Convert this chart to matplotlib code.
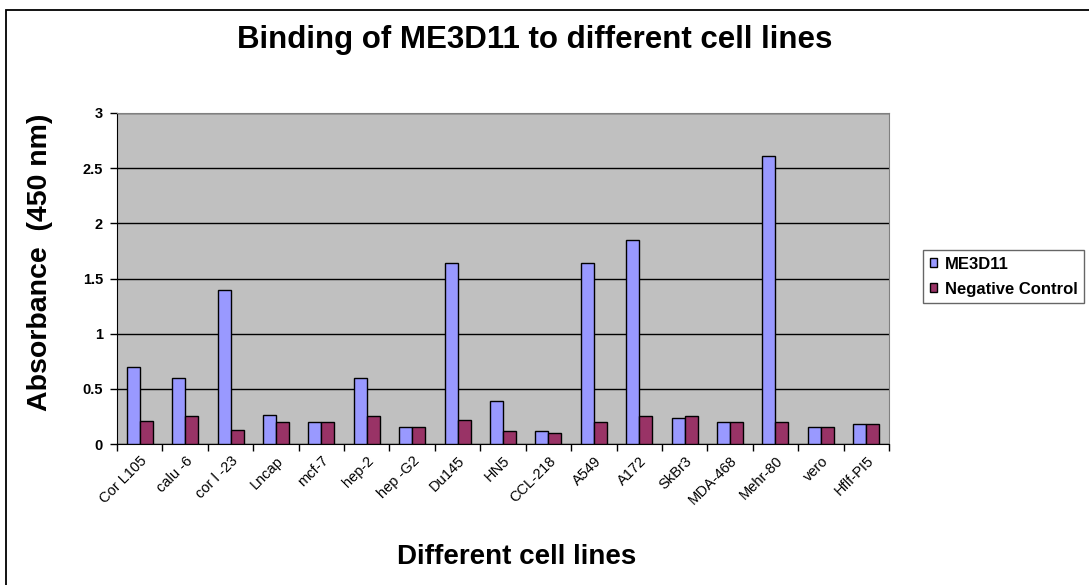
import numpy as np
import matplotlib.pyplot as plt
from matplotlib.patches import Rectangle

plt.rcParams["font.family"] = ["Liberation Sans", "DejaVu Sans"]

# ===================== DATA =====================
cell_lines = ["Cor L105", "calu -6", "cor l -23", "Lncap", "mcf-7", "hep-2",
              "hep -G2", "Du145", "HN5", "CCL-218", "A549", "A172", "SkBr3",
              "MDA-468", "Mehr-80", "vero", "Hflf-PI5"]
me3d11 = [0.70, 0.60, 1.40, 0.26, 0.20, 0.60, 0.15, 1.64, 0.39, 0.12,
          1.64, 1.85, 0.24, 0.20, 2.61, 0.15, 0.18]
neg_control = [0.21, 0.25, 0.13, 0.20, 0.20, 0.25, 0.15, 0.22, 0.12, 0.10,
               0.20, 0.25, 0.25, 0.20, 0.20, 0.15, 0.18]
y_ticks = [0, 0.5, 1, 1.5, 2, 2.5, 3]
y_tick_labels = ["0", "0.5", "1", "1.5", "2", "2.5", "3"]

W, H = 1089, 585
fig = plt.figure(figsize=(W / 100, H / 100), dpi=100)

# outer chart frame
fig.patches.append(Rectangle((6 / W, -0.01), 1.02, 1 - 10 / H + 0.01,
                             transform=fig.transFigure, fill=False,
                             edgecolor="black", linewidth=1.3))

ax = fig.add_axes([117 / W, 1 - 444 / H, (889 - 117) / W, (444 - 113) / H])
ax.set_facecolor("#C0C0C0")

x = np.arange(len(cell_lines))
bw = 1 / 3.5
ax.bar(x - bw / 2, me3d11, bw, color="#9999FF", edgecolor="black",
       linewidth=1, label="ME3D11", zorder=3)
ax.bar(x + bw / 2, neg_control, bw, color="#993366", edgecolor="black",
       linewidth=1, label="Negative Control", zorder=3)

ax.set_xlim(-0.5, len(cell_lines) - 0.5)
ax.set_ylim(0, 3)
ax.set_yticks(y_ticks)
ax.set_yticklabels(y_tick_labels, fontsize=10.5, fontweight="bold")
ax.yaxis.grid(True, color="black", linewidth=1)
ax.set_axisbelow(True)

# category ticks sit on the boundaries, labels at the centres
ax.set_xticks(np.arange(len(cell_lines) + 1) - 0.5)
ax.set_xticklabels([])
ax.set_xticks(x, minor=True)
ax.set_xticklabels(cell_lines, minor=True, rotation=45, ha="right",
                   rotation_mode="anchor", fontsize=10.5)
ax.tick_params(axis="x", which="minor", length=0, pad=7)
ax.tick_params(axis="x", which="major", length=5, width=1, direction="out")
ax.tick_params(axis="y", length=5, width=1, direction="out", pad=5)

for side in ["top", "right"]:
    ax.spines[side].set_color("#808080")
for side in ["left", "bottom"]:
    ax.spines[side].set_color("black")

fig.text(535 / W, 1 - 40 / H, "Binding of ME3D11 to different cell lines",
         ha="center", va="center", fontsize=22.5, fontweight="bold")
fig.text(40 / W, 1 - 262 / H, "Absorbance  (450 nm)", rotation=90,
         ha="center", va="center", fontsize=20.5, fontweight="bold")
fig.text(517 / W, 1 - 557 / H, "Different cell lines", ha="center",
         va="center", fontsize=20, fontweight="bold")

leg = fig.legend(loc="upper left", bbox_to_anchor=(923 / W, 1 - 250 / H),
                 frameon=True, fancybox=False,
                 prop={"weight": "bold", "size": 12},
                 handlelength=0.45, handleheight=0.45, handletextpad=0.45,
                 borderpad=0.4, labelspacing=0.6, borderaxespad=0)
leg.get_frame().set_edgecolor("#404040")
leg.get_frame().set_linewidth(1)

fig.savefig("out.png", dpi=100)
